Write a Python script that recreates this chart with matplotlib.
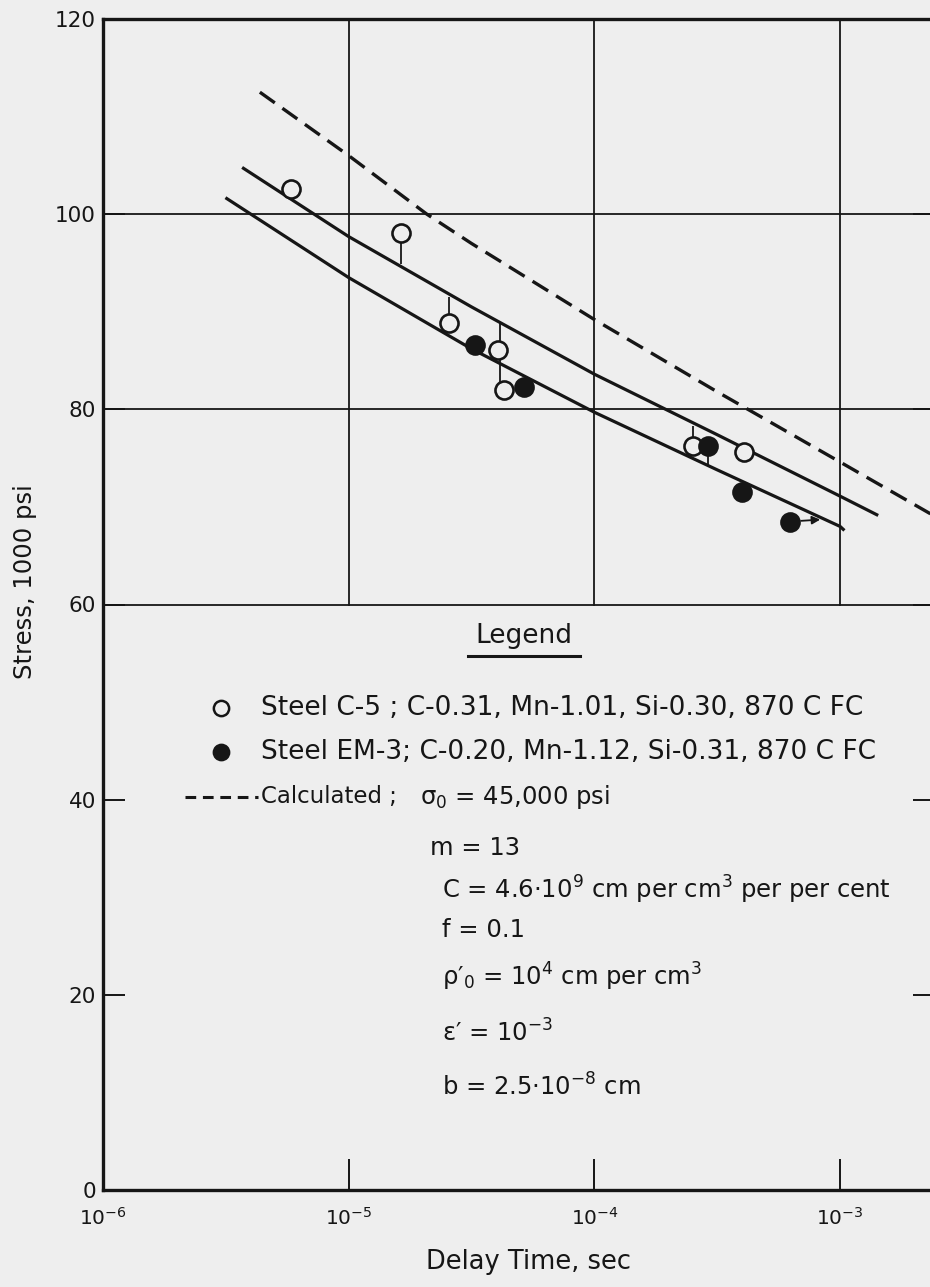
import matplotlib
matplotlib.use("Agg")
import matplotlib.pyplot as plt
from matplotlib.lines import Line2D

plt.rcParams['font.family'] = ['DejaVu Sans']
plt.rcParams['mathtext.fontset'] = 'dejavusans'
plt.rcParams['mathtext.default'] = 'regular'

# ---------------- data ----------------
# Steel C-5 (open circles)
time_c5 = [5.82e-6, 1.63e-5, 2.57e-5, 4.07e-5, 4.30e-5, 2.52e-4, 4.07e-4]
stress_c5 = [102.6, 98.1, 88.8, 86.1, 82.0, 76.2, 75.6]
# Steel EM-3 (filled circles)
time_em3 = [3.27e-5, 5.15e-5, 2.90e-4, 3.98e-4, 6.26e-4]
stress_em3 = [86.6, 82.3, 76.2, 71.5, 68.5]
# scatter bars attached to points
bar_time = [1.63e-5, 2.57e-5, 4.12e-5, 2.52e-4, 2.90e-4]
bar_low = [94.9, 88.8, 82.0, 76.2, 74.2]
bar_high = [98.1, 91.5, 88.8, 78.3, 76.2]
# run-out arrow (last EM-3 point)
arrow_from = (6.26e-4, 68.5)
arrow_to = (8.3e-4, 68.7)
# fitted curves
upper_time = [3.73e-6, 1e-5, 3.16e-5, 1e-4, 3.16e-4, 1e-3, 1.41e-3]
upper_stress = [104.7, 97.7, 90.5, 83.6, 77.4, 71.1, 69.2]
lower_time = [3.19e-6, 1e-5, 3.16e-5, 1e-4, 3.16e-4, 1e-3, 1.03e-3]
lower_stress = [101.6, 93.5, 86.2, 79.7, 73.8, 68.0, 67.7]
calc_time = [4.35e-6, 1e-5, 2.08e-5, 3.16e-5, 1e-4, 3.16e-4, 1e-3, 2.33e-3]
calc_stress = [112.5, 106.0, 100.0, 97.0, 89.2, 81.8, 74.6, 69.3]

x_ticks = [1e-6, 1e-5, 1e-4, 1e-3]
x_ticklabels = [r'$10^{-6}$', r'$10^{-5}$', r'$10^{-4}$', r'$10^{-3}$']
y_ticks = [0, 20, 40, 60, 80, 100, 120]
grid_y = [60, 80, 100]
grid_x = [1e-5, 1e-4, 1e-3]

legend_rows = [
    "Steel C-5 ; C-0.31, Mn-1.01, Si-0.30, 870 C FC",
    "Steel EM-3; C-0.20, Mn-1.12, Si-0.31, 870 C FC",
]
calc_label = "Calculated ;"
param_lines = [
    r"$\sigma_0$ = 45,000 psi",
    "m = 13",
    r"C = 4.6$\cdot$10$^9$ cm per cm$^3$ per per cent",
    "f = 0.1",
    r"$\rho\prime_0$ = 10$^4$ cm per cm$^3$",
    r"$\epsilon\prime$ = 10$^{-3}$",
    r"b = 2.5$\cdot$10$^{-8}$ cm",
]

# ---------------- figure ----------------
W, H = 930, 1287
BG = '#eeeeee'
INK = '#161616'
fig = plt.figure(figsize=(W / 100, H / 100), dpi=100, facecolor=BG)


def fx(px):
    return px / W


def fy(py):
    return 1 - py / H


RIGHT = 935
ax = fig.add_axes([fx(103), fy(1190), (RIGHT - 103) / W, (1190 - 19) / H])
ax.set_facecolor(BG)
ax.set_xscale('log')
ax.set_xlim(1e-6, 10 ** (-6 + (RIGHT - 103) / 245.7))
ax.set_ylim(0, 120)

for s in ['top', 'left', 'bottom', 'right']:
    ax.spines[s].set_linewidth(2.4)
    ax.spines[s].set_color(INK)

ax.set_xticks(x_ticks)
ax.set_xticklabels(x_ticklabels, fontsize=14.5)
ax.xaxis.set_minor_locator(matplotlib.ticker.NullLocator())
ax.set_yticks(y_ticks)
ax.set_yticklabels([str(v) for v in y_ticks], fontsize=15.5)
ax.tick_params(axis='x', direction='in', length=22, width=1.4, color=INK,
               pad=12, top=False, labelcolor=INK)
ax.tick_params(axis='y', direction='in', length=16, width=1.4, color=INK,
               pad=5, left=True, right=True, labelcolor=INK)

# partial grid
for g in grid_y:
    ax.axhline(g, color=INK, lw=1.3, zorder=1)
for g in grid_x:
    ax.axvline(g, ymin=0.5, ymax=1.0, color=INK, lw=1.3, zorder=1)

# curves
ax.plot(upper_time, upper_stress, color=INK, lw=2.3, zorder=3)
ax.plot(lower_time, lower_stress, color=INK, lw=2.3, zorder=3)
ax.plot(calc_time, calc_stress, color=INK, lw=2.4, ls=(0, (5.5, 2.8)), zorder=3)

# scatter bars
ax.vlines(bar_time, bar_low, bar_high, color=INK, lw=1.3, zorder=4)

# points
ax.plot(time_c5, stress_c5, 'o', ms=13, mfc=BG, mec=INK, mew=1.9, zorder=5)
ax.plot(time_em3, stress_em3, 'o', ms=13, mfc=INK, mec=INK, mew=1.9, zorder=5)
ax.annotate('', xy=arrow_to, xytext=arrow_from,
            arrowprops=dict(arrowstyle='-|>', color=INK, lw=1.3,
                            mutation_scale=12, shrinkA=8, shrinkB=0),
            zorder=6)

# axis labels
fig.text(fx(25), fy(582), "Stress, 1000 psi", rotation=90, ha='center',
         va='center', fontsize=17.5, color=INK)
fig.text(fx(528), fy(1262), "Delay Time, sec", ha='center', va='center',
         fontsize=18.5, color=INK)

# legend block
fig.text(fx(524), fy(636), "Legend", ha='center', va='center', fontsize=19,
         color=INK)
fig.add_artist(Line2D([fx(468), fx(580)], [fy(656), fy(656)], color=INK,
                      lw=2.2, transform=fig.transFigure))

fig.add_artist(Line2D([fx(221)], [fy(708)], marker='o', ms=11, mfc=BG,
                      mec=INK, mew=1.8, ls='none', transform=fig.transFigure))
fig.add_artist(Line2D([fx(221)], [fy(752)], marker='o', ms=11, mfc=INK,
                      mec=INK, mew=1.8, ls='none', transform=fig.transFigure))
fig.text(fx(261), fy(708), legend_rows[0], ha='left', va='center',
         fontsize=19, color=INK)
fig.text(fx(261), fy(752), legend_rows[1], ha='left', va='center',
         fontsize=19, color=INK)

fig.add_artist(Line2D([fx(185), fx(258)], [fy(797), fy(797)], color=INK,
                      lw=2.2, ls=(0, (3.5, 2.2)), transform=fig.transFigure))
fig.text(fx(261), fy(797), calc_label, ha='left', va='center', fontsize=16.5,
         color=INK)

param_pos = [(420, 797), (430, 848), (442, 890), (442, 930), (442, 977),
             (442, 1033), (442, 1087)]
for (px, py), t in zip(param_pos, param_lines):
    fig.text(fx(px), fy(py), t, ha='left', va='center', fontsize=17.5,
             color=INK)

fig.savefig("out.png", dpi=100, facecolor=BG)
